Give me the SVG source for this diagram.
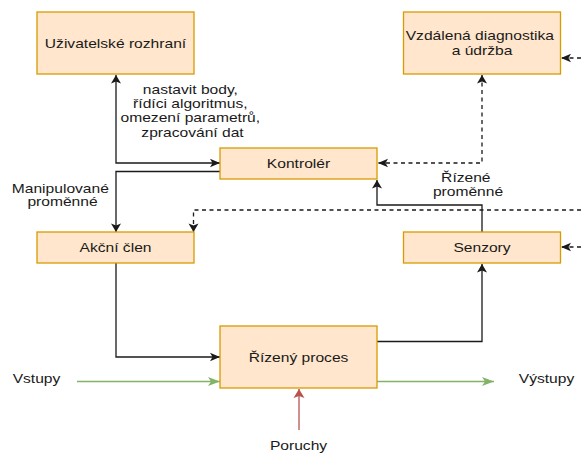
<svg xmlns="http://www.w3.org/2000/svg" width="581" height="453" viewBox="0 0 581 453">
  <style>
    .box { fill: #ffe6cc; stroke: #d79b00; stroke-width: 1.3; }
    .t { font-family: "Liberation Sans", Arial, sans-serif; font-size: 12.5px; fill: #1a1a1a; text-anchor: middle; }
    .ln { fill: none; stroke: #1a1a1a; stroke-width: 1.3; }
    .dash { stroke-dasharray: 4 3.5; }
    .green { fill: none; stroke: #82b366; stroke-width: 1.3; }
    .red { fill: none; stroke: #b85450; stroke-width: 1.3; }
  </style>
  <defs>
    <!-- classic arrowheads: "h" for horizontal runs, "v" for vertical runs -->
    <marker id="ah" markerUnits="userSpaceOnUse" viewBox="-12 -6 14 12" markerWidth="14" markerHeight="12" refX="0" refY="0" orient="auto-start-reverse">
      <path d="M-10,-4.2 L0,0 L-10,4.2 L-7.5,0 Z" fill="#1a1a1a"/>
    </marker>
    <marker id="av" markerUnits="userSpaceOnUse" viewBox="-12 -6 14 12" markerWidth="14" markerHeight="12" refX="0" refY="0" orient="auto-start-reverse">
      <path d="M-8.5,-5 L0,0 L-8.5,5 L-6.5,0 Z" fill="#1a1a1a"/>
    </marker>
    <marker id="ag" markerUnits="userSpaceOnUse" viewBox="-14 -6 16 12" markerWidth="16" markerHeight="12" refX="0" refY="0" orient="auto">
      <path d="M-12,-4.5 L0,0 L-12,4.5 L-9,0 Z" fill="#82b366"/>
    </marker>
    <marker id="ar" markerUnits="userSpaceOnUse" viewBox="-12 -7 14 14" markerWidth="14" markerHeight="14" refX="0" refY="0" orient="auto">
      <path d="M-9,-5.5 L0,0 L-9,5.5 L-7,0 Z" fill="#b85450"/>
    </marker>
  </defs>

  <g id="connectors">
    <path class="ln" d="M116,75 V163 H220" marker-start="url(#av)" marker-end="url(#ah)"/>
    <path class="ln" d="M220,171.5 H116 V232" marker-end="url(#av)"/>
    <path class="ln dash" d="M482,75 V163 H378" marker-start="url(#av)" marker-end="url(#ah)"/>
    <path class="ln dash" d="M581,210 H193.5 V232" marker-end="url(#av)"/>
    <path class="ln dash" d="M581,58 H561" marker-end="url(#ah)"/>
    <path class="ln dash" d="M581,247 H561" marker-end="url(#ah)"/>
    <path class="ln" d="M482,232 V205 H377 V180" marker-end="url(#av)"/>
    <path class="ln" d="M116,263 V357 H220" marker-end="url(#ah)"/>
    <path class="ln" d="M377,341.5 H482 V264" marker-end="url(#av)"/>
    <path class="green" d="M77,381.5 H220" marker-end="url(#ag)"/>
    <path class="green" d="M377,381.5 H494" marker-end="url(#ag)"/>
    <path class="red" d="M299,430 V389" marker-end="url(#ar)"/>
  </g>

  <g id="labels">
    <text class="t" transform="translate(192.5,93.5) scale(1.25,1)">
      <tspan x="0" y="0">nastavit body,</tspan>
      <tspan x="0" dy="14.4">řídíci algoritmus,</tspan>
      <tspan x="0" dy="14.4">omezení parametrů,</tspan>
      <tspan x="0" dy="14.4">zpracování dat</tspan>
    </text>
    <text class="t" transform="translate(62.5,192.5) scale(1.25,1)">
      <tspan x="0" y="0">Manipulované</tspan>
      <tspan x="0" dy="14">proměnné</tspan>
    </text>
    <text class="t" transform="translate(468,181.5) scale(1.25,1)">
      <tspan x="0" y="0">Řízené</tspan>
      <tspan x="0" dy="14.4">proměnné</tspan>
    </text>
    <text class="t" transform="translate(36.5,383) scale(1.25,1)">Vstupy</text>
    <text class="t" transform="translate(546.5,383) scale(1.25,1)">Výstupy</text>
    <text class="t" transform="translate(298.5,449.5) scale(1.25,1)">Poruchy</text>
  </g>

  <g id="uzivatelske-rozhrani">
    <rect class="box" x="37" y="12" width="157" height="62"/>
    <text class="t" transform="translate(115.5,47.5) scale(1.25,1)">Uživatelské rozhraní</text>
  </g>
  <g id="vzdalena-diagnostika">
    <rect class="box" x="403.5" y="12" width="157" height="62"/>
    <text class="t" transform="translate(482,39.5) scale(1.25,1)">
      <tspan x="0" y="0">Vzdálená diagnostika</tspan>
      <tspan x="0" dy="15.5">a údržba</tspan>
    </text>
  </g>
  <g id="kontroler">
    <rect class="box" x="220" y="148" width="157" height="31"/>
    <text class="t" transform="translate(298.5,167.5) scale(1.25,1)">Kontrolér</text>
  </g>
  <g id="akcni-clen">
    <rect class="box" x="37" y="232" width="157" height="31"/>
    <text class="t" transform="translate(115.5,252) scale(1.25,1)">Akční člen</text>
  </g>
  <g id="senzory">
    <rect class="box" x="403.5" y="232" width="157" height="31"/>
    <text class="t" transform="translate(482,252) scale(1.25,1)">Senzory</text>
  </g>
  <g id="rizeny-proces">
    <rect class="box" x="220" y="326" width="157" height="62"/>
    <text class="t" transform="translate(298.5,361.5) scale(1.25,1)">Řízený proces</text>
  </g>
</svg>
